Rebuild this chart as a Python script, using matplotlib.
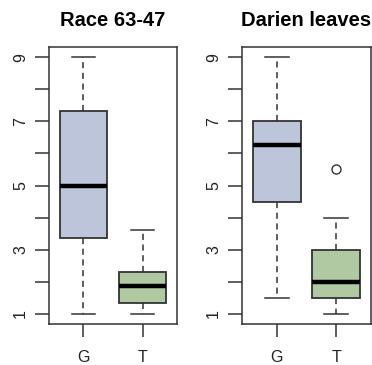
import matplotlib
matplotlib.use("Agg")
import matplotlib.pyplot as plt

plt.rcParams['font.family'] = ['Liberation Sans', 'DejaVu Sans']

groups = ['G', 'T']
titles = ['Race 63-47', 'Darien leaves']
fill_colors = ['#bcc5d9', '#b1c9a3']

# five-number summaries per panel: (whislo, q1, med, q3, whishi)
race_stats = [(1.0, 3.37, 5.0, 7.33, 9.0),
              (1.0, 1.35, 1.87, 2.31, 3.6)]
darien_stats = [(1.5, 4.5, 6.25, 7.0, 9.0),
                (1.0, 1.5, 2.0, 3.0, 4.0)]
race_fliers = [[], []]
darien_fliers = [[], [5.5]]

panels = [(race_stats, race_fliers), (darien_stats, darien_fliers)]

fig = plt.figure(figsize=(3.72, 3.65), dpi=100)
ax_pos = [[0.1317, 0.1123, 0.3441, 0.7589],
          [0.6505, 0.1123, 0.3468, 0.7589]]
edge = '#333333'

for i, (stats, fliers) in enumerate(panels):
    ax = fig.add_axes(ax_pos[i])
    bxp_stats = []
    for g, s, f in zip(groups, stats, fliers):
        bxp_stats.append(dict(label=g, whislo=s[0], q1=s[1], med=s[2],
                              q3=s[3], whishi=s[4], fliers=f))
    bp = ax.bxp(bxp_stats, positions=[1, 2], widths=0.8, patch_artist=True,
                boxprops=dict(edgecolor=edge, linewidth=1.3),
                medianprops=dict(color='black', linewidth=3.2, solid_capstyle='butt'),
                whiskerprops=dict(color=edge, linewidth=1.1, linestyle=(0, (4, 3))),
                capprops=dict(color=edge, linewidth=1.1),
                capwidths=0.4,
                flierprops=dict(marker='o', markersize=6.5, markerfacecolor='none',
                                markeredgecolor=edge, markeredgewidth=1.0))
    for patch, c in zip(bp['boxes'], fill_colors):
        patch.set_facecolor(c)

    ax.set_xlim(0.42, 2.58)
    ax.set_ylim(0.68, 9.32)
    ax.set_yticks(range(1, 10))
    ax.set_yticklabels([str(v) if v % 2 == 1 else '' for v in range(1, 10)],
                       rotation=90, va='center', fontsize=11.5, color='#222222')
    ax.set_xticks([1, 2])
    ax.set_xticklabels(groups, fontsize=11.5, color='#222222')
    ax.tick_params(axis='y', length=10, width=1.1, color=edge, pad=5)
    ax.tick_params(axis='x', length=9, width=1.1, color=edge, pad=10)
    for sp in ax.spines.values():
        sp.set_color(edge)
        sp.set_linewidth(1.1)
    ax.set_title(titles[i], fontsize=14.5, fontweight='bold', pad=15)

fig.savefig('out.png', dpi=100, facecolor='white')
